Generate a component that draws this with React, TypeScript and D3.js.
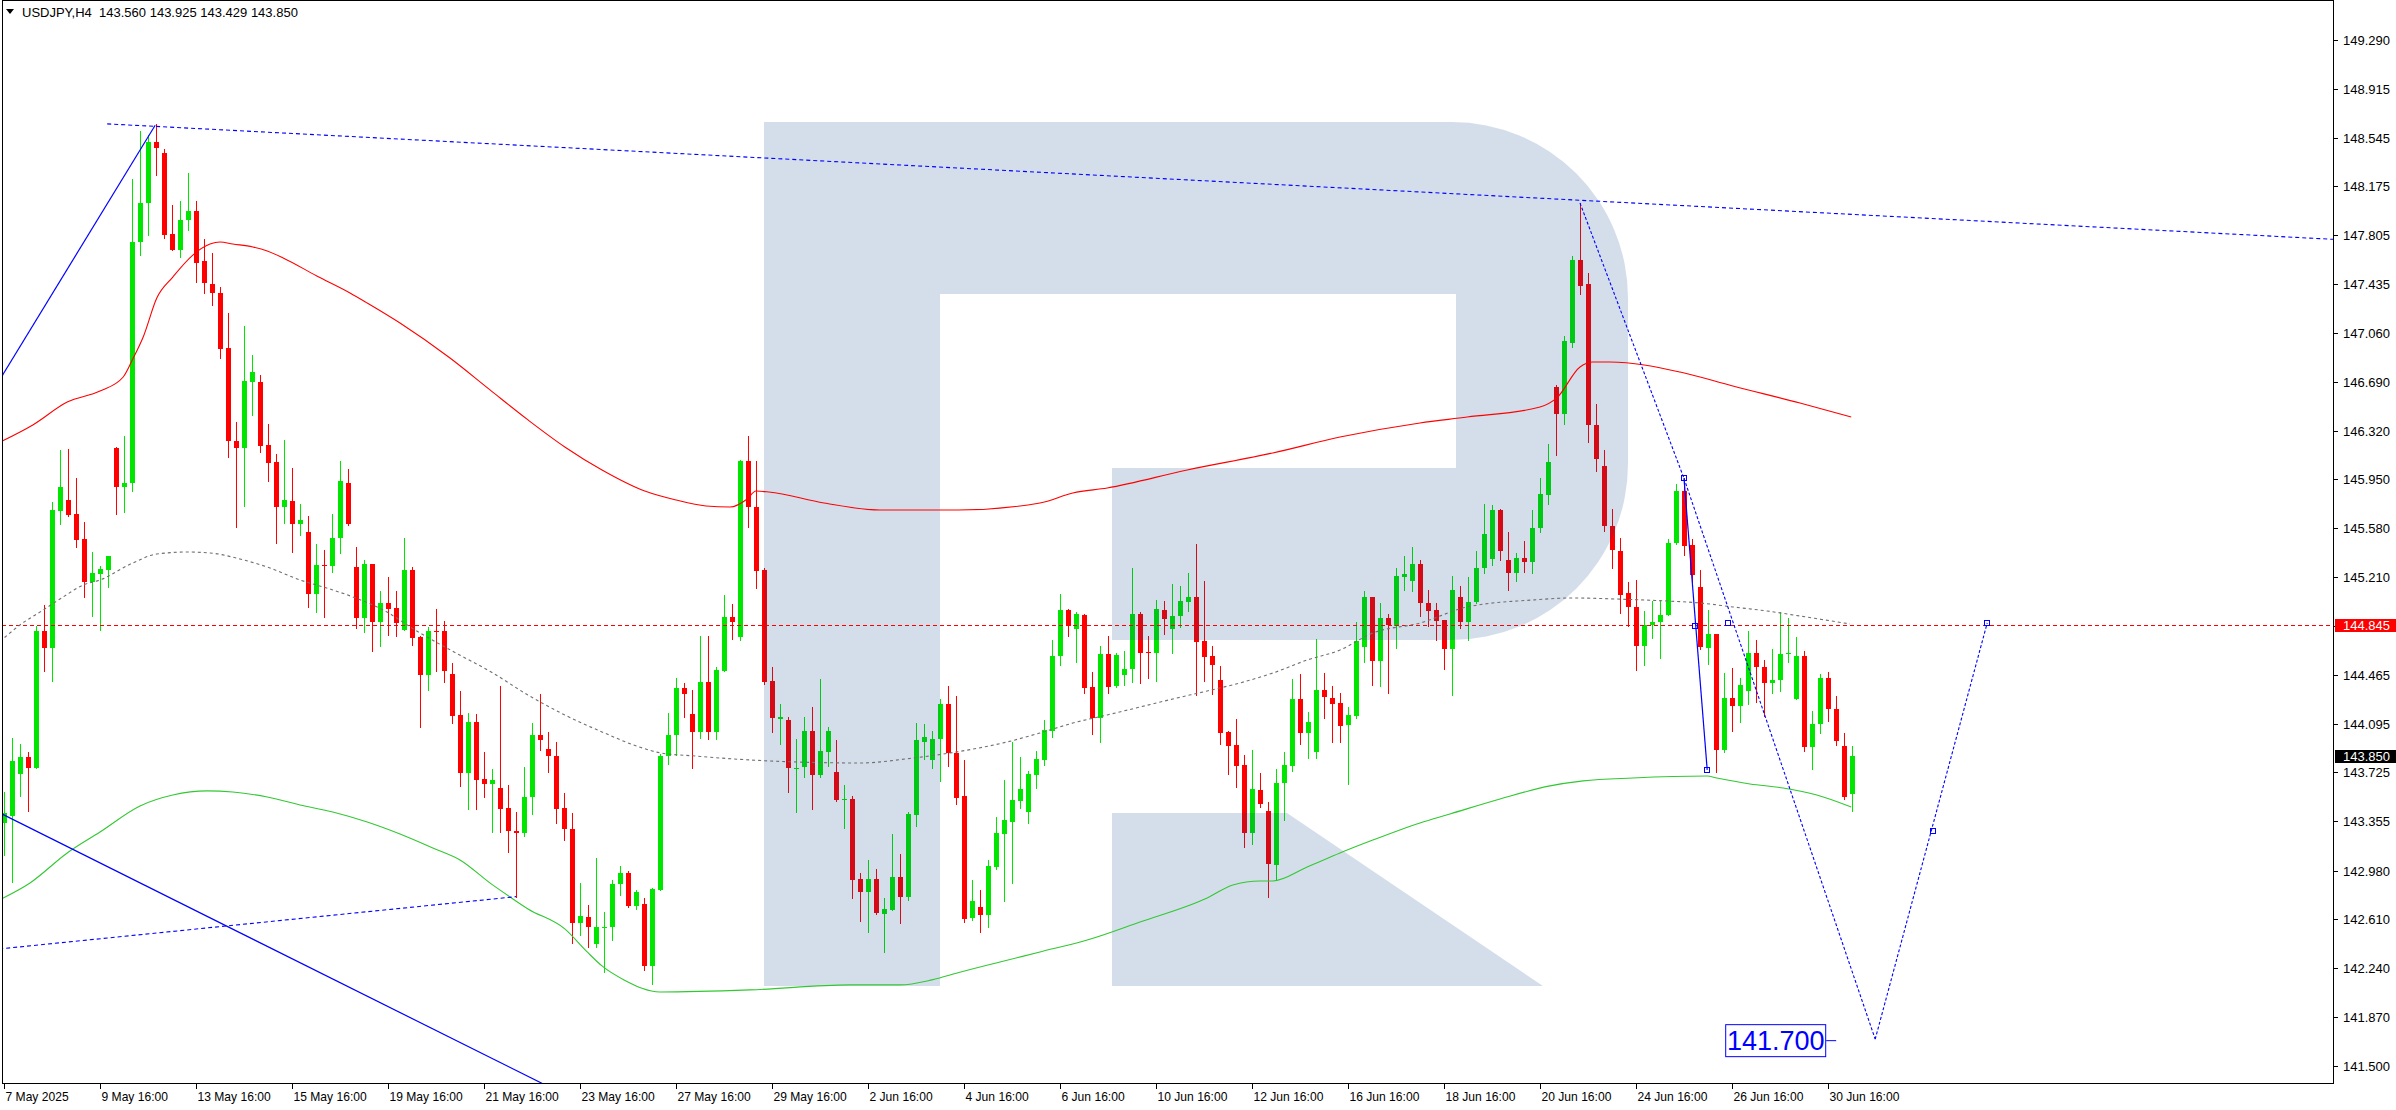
import React from 'react';
import * as d3 from 'd3';

// ---------- DATA ----------
const opens = [
143.340,143.395,143.717,143.843,143.762,144.800,144.673,145.713,145.794,145.685,
145.495,145.175,145.233,145.263,146.191,145.895,145.920,147.755,148.046,148.515,
148.431,147.814,147.692,147.920,147.988,147.609,147.434,147.368,146.945,146.244,
146.186,146.690,146.690,146.211,146.080,145.738,145.786,145.609,145.548,145.078,
145.300,145.290,145.503,145.920,145.283,144.896,145.308,144.871,145.015,144.972,
144.808,145.263,144.752,144.466,144.800,144.800,144.473,144.162,143.724,144.108,
143.676,143.636,143.609,143.454,143.283,143.262,143.536,144.010,143.907,143.853,
143.459,143.297,142.583,142.627,142.424,142.551,142.551,142.876,142.963,142.708,
142.727,142.258,142.836,143.853,144.010,144.368,144.166,144.030,144.409,144.029,
144.496,144.905,144.756,146.090,145.738,145.263,144.417,144.130,144.124,143.758,
143.766,144.037,143.709,143.880,143.725,143.522,143.527,142.917,142.814,142.917,
142.651,142.681,142.931,142.781,143.405,143.956,143.820,143.980,144.246,143.876,
143.547,142.623,142.702,142.643,143.011,143.258,143.352,143.512,143.428,143.706,
143.820,144.043,144.610,144.959,144.813,144.921,144.377,144.142,144.625,144.385,
144.466,144.509,144.929,144.643,144.630,144.959,144.813,144.914,145.023,145.055,
144.724,144.610,144.428,144.036,143.934,143.782,143.269,143.593,143.433,143.021,
143.643,143.777,144.284,144.023,143.884,144.352,144.294,144.251,144.086,144.155,
144.681,145.055,144.575,144.896,144.840,145.213,145.182,145.309,145.013,144.956,
144.880,144.664,145.061,144.870,145.023,145.276,145.346,145.717,145.336,145.241,
145.352,145.324,145.580,145.831,146.655,146.449,146.987,147.618,147.431,146.366,
146.053,145.600,145.409,145.086,144.981,144.687,144.848,144.870,144.924,145.466,
145.859,145.450,145.134,144.674,144.775,143.898,144.290,144.227,144.341,144.633,
144.528,144.405,144.427,144.627,144.284,144.607,143.920,144.094,144.443,144.205,
143.929,143.560];

const highs = [
143.580,143.990,143.944,143.880,144.840,144.997,145.779,146.173,146.180,145.960,
145.627,145.396,145.295,145.370,146.200,146.280,148.231,148.596,148.565,148.649,
148.459,148.034,148.064,148.279,148.064,147.773,147.667,147.409,147.216,146.389,
147.115,146.895,146.743,146.371,146.140,146.250,146.034,145.763,145.672,145.460,
145.414,145.687,146.090,146.030,145.434,145.340,145.310,145.100,145.213,145.104,
145.506,145.288,144.760,144.833,144.967,144.876,144.554,144.344,144.180,144.170,
143.880,143.752,144.382,143.630,143.424,143.766,144.102,144.319,144.034,143.956,
143.568,143.419,142.882,142.719,143.072,142.665,142.909,143.017,142.980,142.830,
142.773,142.845,143.866,144.178,144.444,144.403,144.355,144.761,144.761,144.525,
145.073,145.005,146.098,146.280,146.090,145.277,144.525,144.246,144.146,143.980,
144.146,144.219,144.436,144.070,143.970,143.630,143.549,142.958,143.061,142.990,
142.773,143.261,143.107,143.424,144.102,144.091,144.037,144.281,144.382,144.306,
143.820,142.909,142.833,143.061,143.390,143.668,143.960,143.846,143.740,143.889,
144.124,144.732,145.081,144.965,144.940,144.929,144.489,144.686,144.762,144.630,
144.650,145.281,144.940,144.762,145.035,145.028,145.157,145.142,145.238,145.460,
145.180,144.686,144.534,144.040,144.132,143.858,143.896,143.720,143.499,143.750,
143.879,144.435,144.473,144.182,144.739,144.478,144.382,144.327,144.220,144.871,
145.104,145.060,145.015,144.929,145.276,145.370,145.440,145.336,145.114,145.013,
144.885,145.219,145.140,145.210,145.403,145.767,145.758,145.726,145.552,145.393,
145.479,145.717,145.964,146.217,146.667,147.041,147.650,148.049,147.517,146.525,
146.170,145.726,145.504,145.171,145.187,144.950,145.029,145.035,145.495,145.916,
145.958,145.495,145.260,144.956,144.780,144.481,144.522,144.443,144.798,144.728,
144.576,144.665,144.940,144.896,144.753,144.649,144.189,144.474,144.490,144.306,
144.021,143.925];

const lows = [
143.100,142.890,143.550,143.430,143.760,144.499,144.423,145.610,145.670,145.440,
145.060,144.914,144.810,145.137,145.690,145.700,145.865,147.654,147.806,148.262,
147.786,147.692,147.641,147.844,147.452,147.368,147.277,146.869,146.118,145.591,
145.748,146.437,146.161,145.940,145.470,145.617,145.402,145.528,144.985,144.947,
144.909,145.250,145.394,145.604,144.825,144.795,144.650,144.689,144.770,144.762,
144.807,144.694,144.074,144.352,144.496,144.415,144.099,143.623,143.446,143.451,
143.540,143.270,143.270,143.120,142.782,143.243,143.413,143.893,143.731,143.343,
143.215,142.429,142.491,142.402,142.402,142.212,142.456,142.795,142.700,142.692,
142.226,142.120,142.830,143.793,143.861,144.144,143.759,143.990,143.983,143.983,
144.496,144.742,144.734,145.588,145.127,144.400,144.029,143.942,143.576,143.424,
143.690,143.451,143.690,143.777,143.506,143.305,142.773,142.600,142.516,142.651,
142.361,142.680,142.584,142.754,143.316,143.826,143.758,143.658,143.775,143.486,
142.588,142.606,142.510,142.550,142.990,142.752,142.884,143.458,143.345,143.610,
143.782,143.993,144.542,144.762,144.567,144.332,144.018,143.960,144.332,144.377,
144.390,144.415,144.408,144.446,144.423,144.775,144.635,144.833,144.954,144.314,
144.423,144.322,143.942,143.712,143.618,143.162,143.180,143.461,142.778,142.909,
143.365,143.737,143.939,143.838,143.838,144.142,143.960,143.960,143.636,144.142,
144.567,144.390,144.382,144.332,144.673,145.111,145.106,144.912,144.839,144.728,
144.512,144.316,144.823,144.728,145.013,145.241,145.298,145.336,145.108,145.181,
145.251,145.241,145.552,145.767,146.138,146.370,146.956,147.358,146.233,146.011,
145.558,145.276,144.934,144.839,144.500,144.544,144.744,144.595,144.920,145.457,
145.377,145.171,144.665,144.547,143.730,143.879,144.037,144.110,144.246,144.259,
144.151,144.332,144.341,144.563,144.280,143.888,143.752,144.024,144.119,143.936,
143.524,143.429];

const closes = [
143.415,143.813,143.843,143.762,144.800,144.673,145.718,145.890,145.680,145.490,
145.175,145.243,145.270,145.369,145.895,145.920,147.755,148.046,148.515,148.469,
147.806,147.692,147.920,147.988,147.596,147.444,147.363,146.938,146.244,146.186,
146.697,146.766,146.206,146.077,145.743,145.794,145.609,145.642,145.078,145.300,
145.290,145.508,145.938,145.612,144.896,145.308,144.871,145.015,144.967,144.863,
145.263,144.749,144.466,144.800,144.795,144.496,144.157,143.724,144.106,143.671,
143.636,143.668,143.451,143.278,143.262,143.541,144.010,143.975,143.847,143.451,
143.297,142.583,142.632,142.551,142.551,142.555,142.876,142.963,142.708,142.817,
142.258,142.841,143.853,144.010,144.368,144.322,144.030,144.409,144.029,144.504,
144.905,144.864,146.090,145.738,145.258,144.409,144.135,144.146,143.758,143.762,
144.037,143.709,143.885,144.037,143.519,143.525,142.909,142.814,142.917,142.659,
142.692,142.931,142.781,143.411,143.969,143.994,143.980,144.246,143.871,143.534,
142.613,142.750,142.643,143.016,143.264,143.365,143.517,143.600,143.714,143.828,
144.048,144.610,144.959,144.840,144.929,144.370,144.142,144.625,144.377,144.618,
144.511,144.929,144.635,144.630,144.964,144.891,144.914,145.028,145.055,144.719,
144.605,144.542,144.028,143.929,143.777,143.269,143.600,143.484,143.028,143.643,
143.782,144.284,144.023,144.106,144.352,144.296,144.246,144.081,144.162,144.726,
145.055,144.575,144.896,144.845,145.218,145.233,145.309,145.010,144.950,144.877,
144.664,145.108,144.870,145.023,145.276,145.536,145.717,145.409,145.241,145.352,
145.324,145.584,145.843,146.081,146.449,147.000,147.618,147.422,146.360,146.106,
145.600,145.416,145.076,144.981,144.687,144.848,144.870,144.924,145.466,145.859,
145.441,145.228,144.680,144.775,143.898,144.290,144.227,144.389,144.633,144.528,
144.405,144.427,144.627,144.633,144.607,143.920,144.094,144.443,144.205,143.961,
143.539,143.850];

// moving averages: [bar index, price]
const maRed: [number, number][] = [
[-0.5,146.234],[3.6,146.364],[7.9,146.538],[12,146.622],[14.9,146.728],[16.1,146.865],[17.4,147.032],
[19.1,147.328],[21.1,147.487],[23.6,147.654],[25.75,147.738],[27,147.753],[28.6,147.738],[31.1,147.715],
[32.9,147.685],[34.9,147.632],[39.1,147.495],[43.25,147.366],[45.4,147.29],[49.5,147.138],[55.75,146.872],
[60.75,146.63],[65.5,146.402],[70.1,146.197],[74.75,146.022],[80.1,145.862],[84,145.794],[87.75,145.749],
[90.75,145.741],[92.9,145.802],[94,145.862],[95.6,145.855],[102.5,145.771],[109.5,145.718],[119.25,145.718],
[129.5,145.771],[133.6,145.847],[137.9,145.885],[147.9,146.022],[158.6,146.151],[167,146.272],[177,146.379],
[182.9,146.424],[192,146.5],[194.1,146.569],[197,146.804],[198.6,146.842],[200.75,146.842],[209.5,146.766],
[216.1,146.66],[224.5,146.53],[230.9,146.424]];

const maGray: [number, number][] = [
[-0.5,144.72],[2,144.845],[4.9,144.959],[7.4,145.058],[9.9,145.149],[12,145.187],[16.1,145.316],[19.1,145.384],
[22.9,145.399],[25.75,145.392],[29.5,145.346],[32.9,145.285],[37,145.187],[41.1,145.111],[43.6,145.058],
[47.4,144.959],[51.6,144.799],[56.25,144.64],[60.9,144.488],[65.5,144.313],[70.1,144.162],[74.75,144.033],
[79.4,143.919],[82.1,143.873],[86.4,143.85],[93.25,143.82],[107.1,143.797],[112.75,143.828],[118.25,143.873],
[125.4,143.957],[129.5,144.025],[133.6,144.1],[137.9,144.162],[142,144.222],[146.1,144.283],[150.4,144.344],
[154.5,144.405],[158.6,144.48],[162.9,144.579],[167,144.655],[171.1,144.784],[177,144.86],[182.9,144.982],
[191.1,145.035],[196.1,145.05],[201.6,145.042],[207.9,145.027],[212,145.012],[216.1,144.982],[220.4,144.951],
[224.5,144.913],[230.75,144.853]];

const maGreen: [number, number][] = [
[-0.5,142.76],[3.25,142.886],[7.9,143.114],[12,143.273],[17,143.471],[21.1,143.554],[25.4,143.585],[28.6,143.577],
[32.9,143.539],[37,143.478],[41.1,143.425],[45.4,143.349],[49.5,143.258],[53.6,143.152],[57,143.061],[60.9,142.879],
[63.25,142.78],[65.5,142.689],[70.1,142.537],[72.9,142.362],[74.75,142.256],[77.5,142.15],[82,142.058],[93.25,142.074],
[105.75,142.112],[112,142.112],[116,142.15],[119.6,142.21],[124.5,142.286],[129.5,142.362],[135.4,142.453],
[142,142.59],[150.4,142.772],[153.6,142.871],[157,142.901],[158.6,142.901],[162.9,143.007],[167,143.114],
[171.1,143.212],[177,143.342],[180.75,143.41],[187,143.524],[193.25,143.623],[197.4,143.661],[203.6,143.683],
[212.9,143.698],[214.1,143.683],[218.25,143.638],[222.4,143.607],[226.6,143.554],[230.9,143.463]];

// trend objects: [bar index, price]
const topTrend: [number, number][] = [[12.9, 148.65], [197, 148.07]];
const leftRise: [number, number][] = [[-0.6, 146.70], [18.9, 148.64]];
const leftFall: [number, number][] = [[-0.6, 143.42], [67.4, 141.36]];
const lowTrend: [number, number][] = [[-0.6, 142.385], [64, 142.782]];
const zigPeak: [number, number][] = [[197, 148.049], [210, 145.958]];
const zigSolid: [number, number][] = [[210, 145.958], [212.9, 143.745]];
const zigDown: [number, number][] = [[210, 145.958], [233.9, 141.70]];
const zigUp: [number, number][] = [[233.9, 141.70], [247.9, 144.86]];
const markers: [number, number][] = [[210, 145.958], [212.9, 143.745], [211.4, 144.84], [215.5, 144.86], [241.1, 143.28], [247.9, 144.86]];
const targetPrice = 141.70;
const hLinePrice = 144.845;
const lastClose = 143.850;

const yTickValues = [149.290,148.915,148.545,148.175,147.805,147.435,147.060,146.690,146.320,145.950,145.580,145.210,144.840,144.465,144.095,143.725,143.355,142.980,142.610,142.240,141.870,141.500];
const xTickLabels = ['7 May 2025','9 May 16:00','13 May 16:00','15 May 16:00','19 May 16:00','21 May 16:00','23 May 16:00','27 May 16:00','29 May 16:00','2 Jun 16:00','4 Jun 16:00','6 Jun 16:00','10 Jun 16:00','12 Jun 16:00','16 Jun 16:00','18 Jun 16:00','20 Jun 16:00','24 Jun 16:00','26 Jun 16:00','30 Jun 16:00'];
const barsPerLabel = 12;
const header = 'USDJPY,H4  143.560 143.925 143.429 143.850';

// ---------- LAYOUT ----------
const W = 2396, H = 1110;
const PL = 2, PT = 0, PR = 2333, PB = 1083;
const UP = '#00e600', DOWN = '#ff0000', BLUE = '#0000ff';
const FONT = "'Liberation Sans', Arial, sans-serif";

export default function App() {
  const x = d3.scaleLinear().domain([0, 1]).range([4, 12]);
  const y = d3.scaleLinear().domain([141.5, 149.29]).range([1065.5, 39.6]);
  const smooth = d3.line<[number, number]>().x(d => x(d[0])).y(d => y(d[1])).curve(d3.curveMonotoneX);
  const straight = d3.line<[number, number]>().x(d => x(d[0])).y(d => y(d[1]));

  const extendRight = (pts: [number, number][], toIdx: number): [number, number][] => {
    const [a, b] = pts;
    const s = (b[1] - a[1]) / (b[0] - a[0]);
    return [a, [toIdx, a[1] + s * (toIdx - a[0])]];
  };
  const rightIdx = x.invert(PR + 2);

  const candles = opens.map((o, i) => {
    const c = closes[i], h = highs[i], l = lows[i];
    const up = c >= o;
    const col = up ? UP : DOWN;
    const cx = Math.round(x(i));
    const yt = Math.round(y(Math.max(o, c)));
    const yb = Math.round(y(Math.min(o, c)));
    return (
      <g key={i}>
        <line x1={cx + 0.5} x2={cx + 0.5} y1={Math.round(y(h))} y2={Math.round(y(l)) + 1} stroke={col} strokeWidth={1} />
        <rect x={cx - 2} y={yt} width={5} height={Math.max(1, yb - yt)} fill={col} />
      </g>
    );
  });

  // watermark logo (pixel-space decoration)
  const logo = 'M764,122 H1452 A176,176 0 0 1 1628,298 V464 A176,176 0 0 1 1452,640 H1112 V468 H1456 V294 H940 V986 H764 Z M1112,813 H1287 L1543,986 H1112 Z';

  const tx = x(233.9), ty = y(targetPrice);

  return (
    <svg width={W} height={H} viewBox={`0 0 ${W} ${H}`} style={{ position: 'absolute', left: 0, top: 0, display: 'block' }} fontFamily={FONT}>
      <defs>
        <clipPath id="plotClip"><rect x={PL + 1} y={PT + 1} width={PR - PL - 1} height={PB - PT - 1} /></clipPath>
      </defs>
      <rect x={0} y={0} width={W} height={H} fill="#ffffff" />
      <g clipPath="url(#plotClip)">
        <g shapeRendering="crispEdges">{candles}</g>
        <path d={logo} fill="rgb(0,61,131)" fillOpacity={0.17} fillRule="evenodd" />
        <line x1={PL} x2={PR} y1={Math.round(y(hLinePrice)) + 0.5} y2={Math.round(y(hLinePrice)) + 0.5} stroke="#ff0000" strokeDasharray="4,3" />
        <path d={smooth(maRed) || ''} fill="none" stroke="#ff0000" strokeWidth={1.1} />
        <path d={smooth(maGreen) || ''} fill="none" stroke="#32c832" strokeWidth={1.1} />
        <path d={smooth(maGray) || ''} fill="none" stroke="#707070" strokeWidth={1.1} strokeDasharray="3,3" />
        <path d={straight(extendRight(topTrend, rightIdx)) || ''} fill="none" stroke={BLUE} strokeWidth={1.1} strokeDasharray="4,3" />
        <path d={straight(leftRise) || ''} fill="none" stroke={BLUE} strokeWidth={1.2} />
        <path d={straight(leftFall) || ''} fill="none" stroke={BLUE} strokeWidth={1.2} />
        <path d={straight(lowTrend) || ''} fill="none" stroke={BLUE} strokeWidth={1.1} strokeDasharray="4,3" />
        <path d={straight(zigPeak) || ''} fill="none" stroke={BLUE} strokeWidth={1.1} strokeDasharray="3,2" />
        <path d={straight(zigSolid) || ''} fill="none" stroke={BLUE} strokeWidth={1.2} />
        <path d={straight(zigDown) || ''} fill="none" stroke={BLUE} strokeWidth={1.1} strokeDasharray="3,2" />
        <path d={straight(zigUp) || ''} fill="none" stroke={BLUE} strokeWidth={1.1} strokeDasharray="3,2" />
        {markers.map((m, k) => (
          <rect key={k} x={Math.round(x(m[0])) - 2.5} y={Math.round(y(m[1])) - 2.5} width={5} height={5} fill="none" stroke={BLUE} strokeWidth={1} />
        ))}
        <line x1={tx - 49} x2={tx - 39} y1={ty + 1.5} y2={ty + 1.5} stroke={BLUE} strokeWidth={1} />
        <rect x={tx - 149.5} y={ty - 14.5} width={100} height={32} fill="#ffffff" stroke={BLUE} strokeWidth={1} />
        <text x={tx - 99.5} y={ty + 11} textAnchor="middle" fontSize={27} fill={BLUE}>{targetPrice.toFixed(3)}</text>
      </g>

      {/* frame */}
      <line x1={PL + 0.5} x2={PL + 0.5} y1={PT} y2={PB + 1} stroke="#000" />
      <line x1={PL} x2={PR + 1} y1={PT + 0.5} y2={PT + 0.5} stroke="#000" />
      <line x1={PR + 0.5} x2={PR + 0.5} y1={PT} y2={PB + 1} stroke="#000" />
      <line x1={PL} x2={PR + 1} y1={PB + 0.5} y2={PB + 0.5} stroke="#000" />

      {/* y axis */}
      {yTickValues.map((v, k) => {
        const yy = Math.round(y(v)) + 0.5;
        return (
          <g key={k}>
            <line x1={PR} x2={PR + 5} y1={yy} y2={yy} stroke="#000" />
            <text x={PR + 10} y={yy + 4.5} fontSize={13} fill="#000">{v.toFixed(3)}</text>
          </g>
        );
      })}
      <rect x={PR + 2} y={Math.round(y(hLinePrice)) - 6} width={61} height={13} fill="#ff0000" />
      <text x={PR + 10} y={Math.round(y(hLinePrice)) + 5} fontSize={13} fill="#ffffff">{hLinePrice.toFixed(3)}</text>
      <rect x={PR + 2} y={Math.round(y(lastClose)) - 6} width={61} height={13} fill="#000000" />
      <text x={PR + 10} y={Math.round(y(lastClose)) + 5} fontSize={13} fill="#ffffff">{lastClose.toFixed(3)}</text>

      {/* x axis */}
      {xTickLabels.map((lab, k) => {
        const xx = Math.round(x(k * barsPerLabel)) + 0.5;
        return (
          <g key={k}>
            <line x1={xx} x2={xx} y1={PB} y2={PB + 6} stroke="#000" />
            <text x={xx + 1} y={PB + 18} fontSize={13} fill="#000" transform={`translate(${xx + 1},0) scale(0.93,1) translate(${-(xx + 1)},0)`}>{lab}</text>
          </g>
        );
      })}

      {/* header */}
      <path d="M6,9 L14,9 L10,14 Z" fill="#000" />
      <text x={22} y={17} fontSize={13} fill="#000" xmlSpace="preserve" style={{ whiteSpace: 'pre' }}>{header}</text>
    </svg>
  );
}
